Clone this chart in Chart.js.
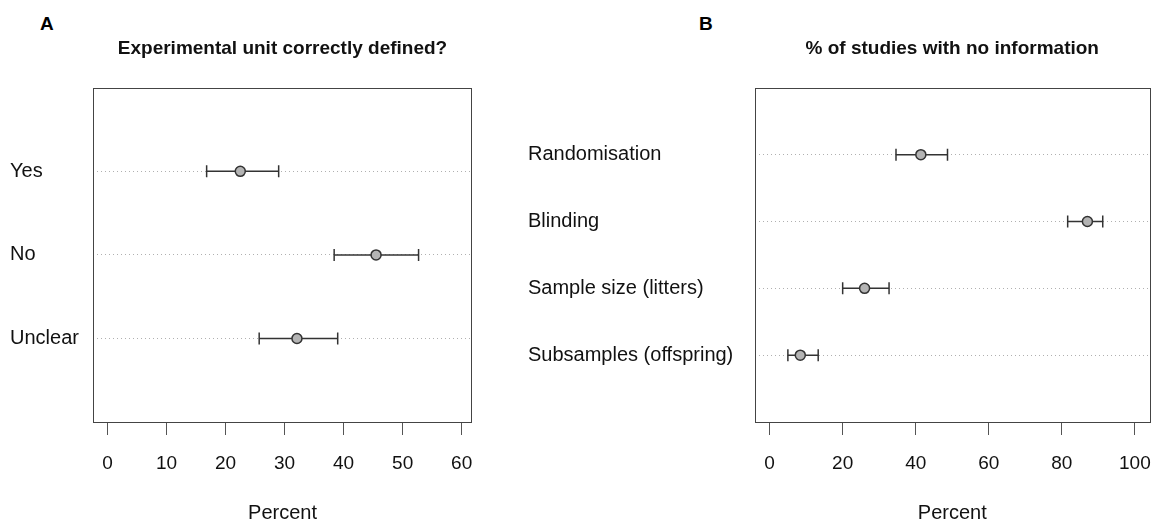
<!DOCTYPE html>
<html>
<head>
<meta charset="utf-8">
<script src="https://cdn.jsdelivr.net/npm/chart.js@4"></script>
<style>
    body { margin: 0; background: #fff; width: 1153px; height: 525px; position: relative; overflow: hidden;
           font-family: "Liberation Sans", Arial, sans-serif; }
    canvas { position: absolute; top: 0; }
    #chartA { left: 0; }
    #chartB { left: 518px; }
    .panel-tag { position: absolute; font-weight: bold; font-size: 19px; line-height: 19px; color: #000; }
</style>
</head>
<body>
<div class="panel-tag" style="left:40px; top:14px;">A</div>
<div class="panel-tag" style="left:699px; top:14px;">B</div>
<canvas id="chartA" width="510" height="525"></canvas>
<canvas id="chartB" width="639" height="525"></canvas>
<script>
// Panel A - experimental unit correctly defined?
const unitLabels = ['Yes', 'No', 'Unclear'];
const unitPct = [22.5, 45.5, 32.1];
const unitLow = [16.8, 38.4, 25.7];
const unitHigh = [29.0, 52.7, 39.0];
const unitTicks = [0, 10, 20, 30, 40, 50, 60];

// Panel B - % of studies with no information
const infoLabels = ['Randomisation', 'Blinding', 'Sample size (litters)', 'Subsamples (offspring)'];
const infoPct = [41.4, 87.0, 26.0, 8.4];
const infoLow = [34.6, 81.6, 20.0, 5.0];
const infoHigh = [48.7, 91.2, 32.7, 13.3];
const infoTicks = [0, 20, 40, 60, 80, 100];

Chart.defaults.font.family = '"Liberation Sans", Arial, sans-serif';
Chart.defaults.color = '#111';

// draws the closed box round the plot region
const frameBox = {
    id: 'frameBox',
    afterDraw(chart) {
        const { ctx, chartArea: a } = chart;
        ctx.save();
        ctx.strokeStyle = '#444';
        ctx.lineWidth = 1;
        ctx.strokeRect(Math.round(a.left) + 0.5, Math.round(a.top) + 0.5,
                       Math.round(a.width), Math.round(a.height));
        ctx.restore();
    }
};

function makeDotChart(canvasId, cfg) {
    const n = cfg.labels.length;

    // point estimates go first so they sit on top of the error bars
    const datasets = [{
        data: cfg.pct.map((v, i) => ({ x: v, y: i + 1 })),
        pointRadius: 5,
        pointBackgroundColor: '#b4b4b4',
        pointBorderColor: '#333',
        pointBorderWidth: 1.5
    }];

    cfg.low.forEach((lo, i) => {
        datasets.push({
            data: [{ x: lo, y: i + 1 }, { x: cfg.high[i], y: i + 1 }],
            showLine: true,
            borderColor: '#333',
            borderWidth: 1.5,
            pointStyle: 'line',
            pointRotation: 90,
            pointRadius: 6,
            pointBorderColor: '#333',
            pointBorderWidth: 1.5
        });
    });

    return new Chart(document.getElementById(canvasId), {
        type: 'scatter',
        data: { datasets: datasets },
        options: {
            responsive: false,
            animation: false,
            events: [],
            layout: { padding: { left: 10, right: cfg.padRight, top: 0, bottom: 0 } },
            plugins: {
                legend: { display: false },
                tooltip: { enabled: false },
                title: {
                    display: true,
                    text: cfg.title,
                    fullSize: false,
                    color: '#111',
                    font: { size: 19, weight: 'bold' },
                    padding: { top: 37, bottom: 28 }
                }
            },
            scales: {
                x: {
                    min: cfg.xMin,
                    max: cfg.xMax,
                    afterBuildTicks: scale => {
                        scale.ticks = cfg.ticks.map(v => ({ value: v }));
                    },
                    afterFit: scale => {
                        scale.height = 103;
                        // the end labels may hang past the box, like in R
                        scale.paddingLeft = 0;
                        scale.paddingRight = 0;
                    },
                    grid: {
                        drawOnChartArea: false,
                        drawTicks: true,
                        tickLength: 13,
                        tickColor: '#555',
                        tickWidth: 1
                    },
                    border: { display: false },
                    ticks: {
                        padding: 17,
                        color: '#111',
                        font: { size: 19 },
                        maxRotation: 0
                    },
                    title: {
                        display: true,
                        text: 'Percent',
                        color: '#111',
                        font: { size: 20 },
                        padding: { top: 0, bottom: 0 }
                    }
                },
                y: {
                    min: 0,
                    max: n + 1,
                    reverse: true,
                    afterBuildTicks: scale => {
                        scale.ticks = [];
                        for (let v = 0; v <= n + 1; v++) scale.ticks.push({ value: v });
                    },
                    afterFit: scale => { scale.width = cfg.yAxisWidth; },
                    grid: {
                        drawTicks: false,
                        lineWidth: 1,
                        color: c => (c.tick && c.tick.value > 0 && c.tick.value <= n) ? '#b0b0b0' : 'rgba(0,0,0,0)'
                    },
                    border: { display: false, dash: [1, 3] },
                    ticks: {
                        crossAlign: 'far',
                        color: '#111',
                        font: { size: 20 },
                        callback: v => cfg.labels[v - 1] || ''
                    }
                }
            }
        },
        plugins: [frameBox]
    });
}

makeDotChart('chartA', {
    labels: unitLabels, pct: unitPct, low: unitLow, high: unitHigh, ticks: unitTicks,
    xMin: -2.4, xMax: 61.7,
    title: 'Experimental unit correctly defined?',
    yAxisWidth: 83.3, padRight: 38.3
});

makeDotChart('chartB', {
    labels: infoLabels, pct: infoPct, low: infoLow, high: infoHigh, ticks: infoTicks,
    xMin: -4, xMax: 104,
    title: '% of studies with no information',
    yAxisWidth: 227, padRight: 0.7
});
</script>
</body>
</html>
